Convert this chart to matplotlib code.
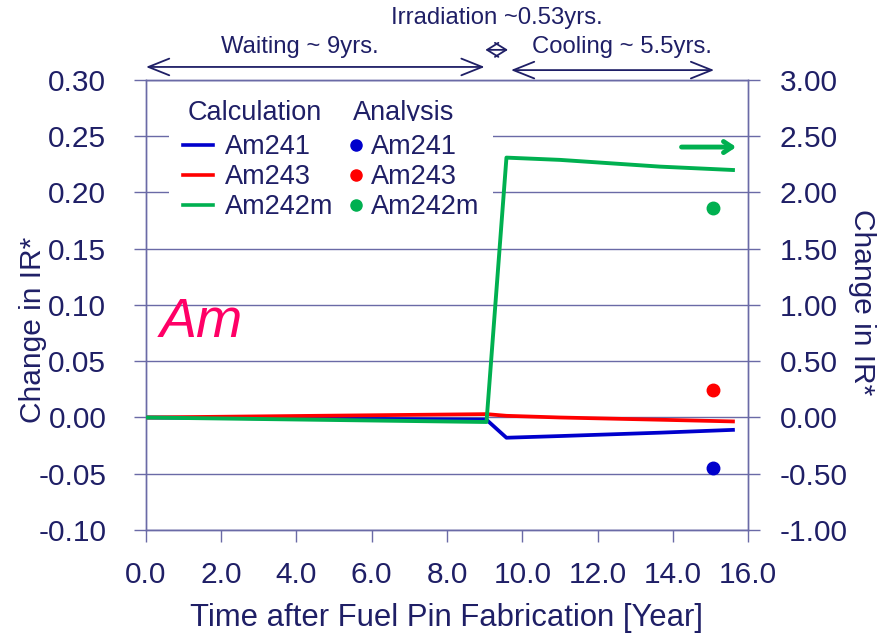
import matplotlib
matplotlib.use("Agg")
import matplotlib.pyplot as plt
from matplotlib.lines import Line2D
import matplotlib.transforms as mtransforms

# veri
t_calc = [0.0, 9.05, 9.58, 11.0, 13.66, 15.6]
am241_calc = [0.0, -0.002, -0.018, -0.0165, -0.0135, -0.011]
am243_calc = [0.0, 0.003, 0.0015, 0.0, -0.002, -0.0035]
am242m_calc = [0.0, -0.04, 2.31, 2.29, 2.23, 2.20]   # sağ eksen

t_anal = [15.07]
am241_anal = [-0.0445]
am243_anal = [0.024]
am242m_anal = [1.86]   # sağ eksen

left_ticks = [-0.10, -0.05, 0.00, 0.05, 0.10, 0.15, 0.20, 0.25, 0.30]
right_ticks = [-1.0, -0.5, 0.0, 0.5, 1.0, 1.5, 2.0, 2.5, 3.0]
x_ticks = [0, 2, 4, 6, 8, 10, 12, 14, 16]
isotopes = ["Am241", "Am243", "Am242m"]

NAVY = "#1f1f66"
FRAME = "#6a6aa6"
BLUE = "#0000cc"
RED = "#ff0000"
GREEN = "#00b050"
PINK = "#ff0066"
colors = [BLUE, RED, GREEN]

plt.rcParams["font.family"] = ["Liberation Sans", "DejaVu Sans"]

fig = plt.figure(figsize=(8.94, 6.39), dpi=100)
ax = fig.add_axes([0.1633, 0.1706, 0.6734, 0.7042])
ax2 = ax.twinx()

ax.set_xlim(0, 16)
ax.set_ylim(-0.10, 0.30)
ax2.set_ylim(-1.0, 3.0)
ax.set_xticks(x_ticks)
ax.set_xticklabels([f"{v:.1f}" for v in x_ticks])
ax.set_yticks(left_ticks)
ax.set_yticklabels([f"{v:.2f}" for v in left_ticks])
ax2.set_yticks(right_ticks)
ax2.set_yticklabels([f"{v:.2f}" for v in right_ticks])

ax.grid(axis="y", color=FRAME, linewidth=1.0)
ax.set_axisbelow(True)

for a in (ax, ax2):
    for s in a.spines.values():
        s.set_color(FRAME)
        s.set_linewidth(1.0)
ax.tick_params(axis="y", direction="out", length=8.6, width=1.0, color=FRAME,
               labelsize=21.5, labelcolor=NAVY, pad=20)
ax.tick_params(axis="x", direction="out", length=8.6, width=1.0, color=FRAME,
               labelsize=21.5, labelcolor=NAVY, pad=14)
ax2.tick_params(axis="y", direction="out", length=8.6, width=1.0, color=FRAME,
                labelsize=21.5, labelcolor=NAVY, pad=14)

# hesaplama çizgileri
ax.plot(t_calc, am241_calc, color=BLUE, lw=2.7, zorder=3)
ax.plot(t_calc, am243_calc, color=RED, lw=2.7, zorder=3)
ax2.plot(t_calc, am242m_calc, color=GREEN, lw=2.8, zorder=3)

# analiz noktaları
ax.plot(t_anal, am241_anal, "o", color=BLUE, ms=9, zorder=4)
ax.plot(t_anal, am243_anal, "o", color=RED, ms=9, zorder=4)
ax2.plot(t_anal, am242m_anal, "o", color=GREEN, ms=9, zorder=4)

ax.set_xlabel("Time after Fuel Pin Fabrication [Year]", fontsize=22.3, color=NAVY, labelpad=10)
fig.text(0.037, 0.484, "Change in IR*", rotation=90, fontsize=21.5, color=NAVY,
         ha="center", va="center")
fig.text(0.964, 0.527, "Change in IR*", rotation=270, fontsize=21.5, color=NAVY,
         ha="center", va="center")

# lejant: iki ayrı blok + başlıklar
calc_handles = [Line2D([], [], color=c, lw=2.6) for c in colors]
anal_handles = [Line2D([], [], color=c, marker="o", ls="none", ms=8) for c in colors]

leg1 = ax.legend(calc_handles, isotopes, loc="upper left", bbox_to_anchor=(0.039, 0.91),
                 fontsize=19.5, handlelength=1.1, handletextpad=0.45,
                 labelspacing=0.15, borderpad=0.5, borderaxespad=0)
leg2 = ax.legend(anal_handles, isotopes, loc="upper left", bbox_to_anchor=(0.3148, 0.91),
                 fontsize=19.5, handlelength=0.5, handletextpad=0.3,
                 labelspacing=0.15, borderpad=0.5, borderaxespad=0)
ax.add_artist(leg1)
for lg in (leg1, leg2):
    lg.get_frame().set_facecolor("white")
    lg.get_frame().set_edgecolor("none")
    lg.get_frame().set_alpha(1)
    for txt in lg.get_texts():
        txt.set_color(NAVY)
    lg.set_zorder(5)

ax.text(0.0698, 0.9267, "Calculation", transform=ax.transAxes, fontsize=19.5,
        color=NAVY, ha="left", va="center")
ax.text(0.344, 0.9267, "Analysis", transform=ax.transAxes, fontsize=19.5,
        color=NAVY, ha="left", va="center")

ax.text(0.023, 0.46, "Am", fontsize=40, style="italic", color=PINK,
        transform=ax.transAxes, ha="left", va="center")

# üst oklar ve açıklamalar
tr = mtransforms.blended_transform_factory(ax.transData, ax.transAxes)
arr = dict(arrowstyle="<->,head_length=1.0,head_width=0.4", color=NAVY, lw=1.3,
           shrinkA=0, shrinkB=0, mutation_scale=15)
ax.annotate("", xy=(0.0, 1.029), xytext=(9.0, 1.029), xycoords=tr, textcoords=tr,
            arrowprops=arr, annotation_clip=False)
ax.annotate("", xy=(9.7, 1.022), xytext=(15.1, 1.022), xycoords=tr, textcoords=tr,
            arrowprops=arr, annotation_clip=False)
ax.annotate("", xy=(9.02, 1.067), xytext=(9.62, 1.067), xycoords=tr, textcoords=tr,
            arrowprops=dict(arrowstyle="<->,head_length=0.37,head_width=0.23", color=NAVY,
                            lw=1.3, shrinkA=0, shrinkB=0, mutation_scale=22),
            annotation_clip=False)
ax.text(4.1, 1.073, "Waiting ~ 9yrs.", transform=tr, fontsize=17.2, color=NAVY,
        ha="center", va="center")
ax.text(12.65, 1.073, "Cooling ~ 5.5yrs.", transform=tr, fontsize=17.2, color=NAVY,
        ha="center", va="center")
ax.text(9.33, 1.138, "Irradiation ~0.53yrs.", transform=tr, fontsize=17.2, color=NAVY,
        ha="center", va="center")

# yeşil ok (sağ eksen)
ax.annotate("", xy=(0.985, 0.851), xytext=(0.885, 0.851), xycoords="axes fraction",
            arrowprops=dict(arrowstyle="->,head_length=0.6,head_width=0.4",
                            color=GREEN, lw=3.5), zorder=6)

fig.savefig("out.png", dpi=100)
